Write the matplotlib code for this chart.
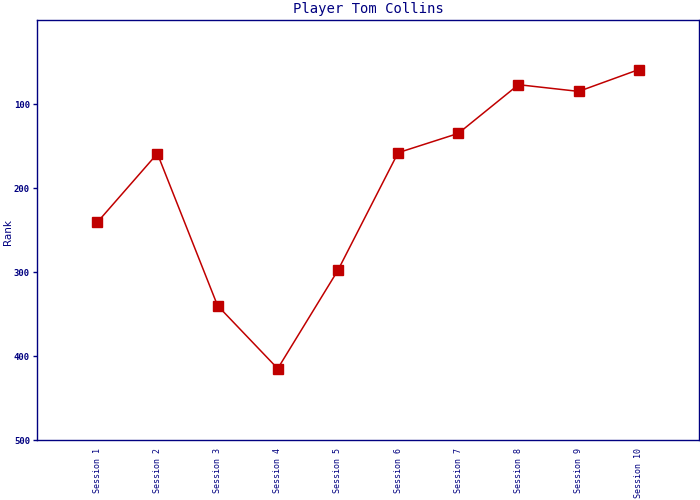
import matplotlib
matplotlib.use("Agg")
import matplotlib.pyplot as plt

sessions = ["Session 1", "Session 2", "Session 3", "Session 4", "Session 5",
            "Session 6", "Session 7", "Session 8", "Session 9", "Session 10"]
ranks = [241, 159, 340, 415, 298, 158, 135, 77, 85, 59]
yticks = [100, 200, 300, 400, 500]

navy = "#000080"
red = "#C00000"

fig = plt.figure(figsize=(7, 5), dpi=100)
ax = fig.add_axes([37/700, 60/500, 662/700, 420/500])

x = list(range(1, len(sessions) + 1))
ax.plot(x, ranks, color=red, linewidth=1.1, marker="s", markersize=7.2,
        markerfacecolor=red, markeredgecolor=red)

ax.set_xlim(0, len(sessions) + 1)
ax.set_ylim(500, 0)
ax.set_yticks(yticks)
ax.set_yticklabels([str(v) for v in yticks], fontsize=6.5, fontweight="bold",
                   color=navy, family="DejaVu Sans Mono")
ax.set_xticks(x)
ax.set_xticklabels(sessions, rotation=90, fontsize=6, color=navy,
                   family="DejaVu Sans Mono", va="top")
ax.tick_params(axis="x", length=0, pad=6)
ax.tick_params(axis="y", length=3, width=1, color=navy, pad=2)

for s in ax.spines.values():
    s.set_color(navy)
    s.set_linewidth(1)

ax.set_title("Player Tom Collins", fontsize=10, color=navy,
             family="DejaVu Sans Mono", pad=5)
fig.text(8/700, 1 - 232/500, "Rank", rotation=90, fontsize=7.5, color=navy,
         ha="center", va="center")

fig.savefig("out.png", dpi=100)
